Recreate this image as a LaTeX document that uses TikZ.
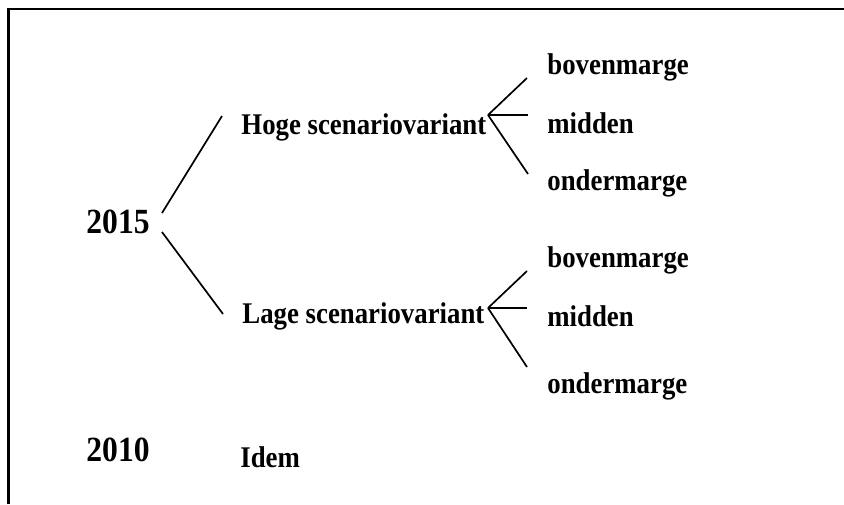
\documentclass[tikz,border=0pt]{standalone}
\usepackage{fontspec}
\setmainfont{Liberation Serif}

\begin{document}
\begin{tikzpicture}[x=0.5pt,y=-0.5pt,
  lbl/.style={font=\fontsize{13.4}{16}\selectfont\bfseries, anchor=base west, inner sep=0pt, yscale=1.12},
  yr/.style={lbl, font=\fontsize{15.8}{19}\selectfont\bfseries},
  fork/.style={line width=0.85pt}]
\useasboundingbox (0,0) rectangle (844,504);
\draw[line width=1.2pt] (8.6,504) -- (8.6,9.2) -- (844,9.2);
% years
\node[yr] (y2015) at (86,233) {2015};
\node[yr] (y2010) at (86,461) {2010};
% variants
\node[lbl] (hoge) at (241,134) {Hoge scenariovariant};
\node[lbl] (lage) at (242,323) {Lage scenariovariant};
\node[lbl] (idem) at (240,467) {Idem};
% margins
\foreach \n/\y/\t in {hb/74/bovenmarge,hm/133/midden,ho/190/ondermarge,
                      lb/267/bovenmarge,lm/326/midden,lo/393/ondermarge}
  \node[lbl] (\n) at (547,\y) {\t};
% branch points
\coordinate (y2015up) at (162,213);
\coordinate (y2015dn) at (162,232);
\coordinate (hogein) at (222,116);
\coordinate (lagein) at (223,314);
\coordinate (hogeout) at (488,115);
\coordinate (lageout) at (488,308);
\coordinate (hbin) at (527,78);
\coordinate (hmin) at (528,115);
\coordinate (hoin) at (528,174);
\coordinate (lbin) at (527,271);
\coordinate (lmin) at (527,308);
\coordinate (loin) at (527,367);
\draw[fork] (y2015up) -- (hogein);
\draw[fork] (y2015dn) -- (lagein);
\foreach \n in {hb,hm,ho}
  \draw[fork] (hogeout) -- (\n in);
\foreach \n in {lb,lm,lo}
  \draw[fork] (lageout) -- (\n in);
\end{tikzpicture}
\end{document}
